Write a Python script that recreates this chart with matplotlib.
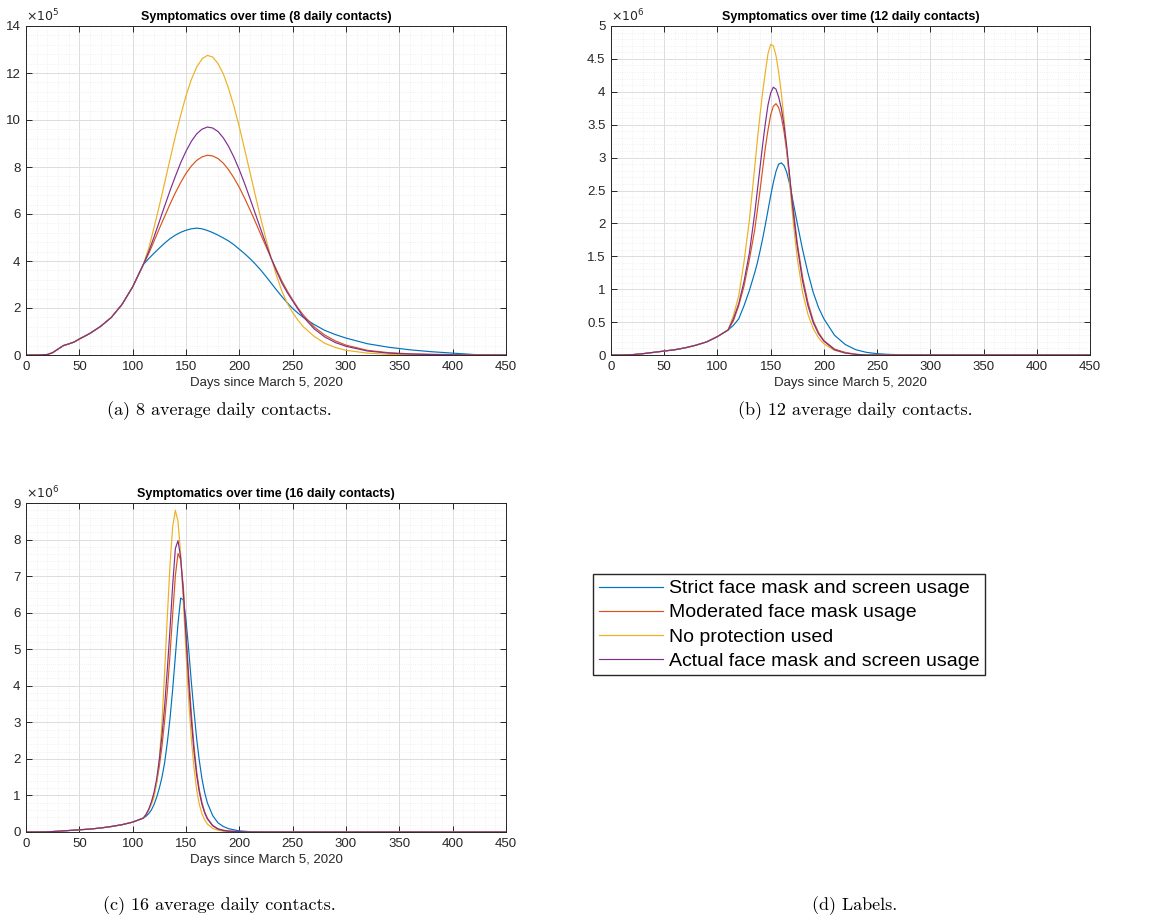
import numpy as np
import matplotlib
matplotlib.use("Agg")
import matplotlib.pyplot as plt
from matplotlib.ticker import MultipleLocator, AutoMinorLocator, FuncFormatter

# MATLAB default line colours
colors = ["#0072BD", "#D95319", "#EDB120", "#7E2F8E"]
labels = ["Strict face mask and screen usage",
          "Moderated face mask usage",
          "No protection used",
          "Actual face mask and screen usage"]

# ---------------- 8 daily contacts (values in 1e5) ----------------
early_days_a = [0, 10, 20, 25, 30, 35, 40, 45, 50, 60, 70, 80, 90, 100, 110]
early_a = [0, 0, 0.02, 0.1, 0.25, 0.4, 0.47, 0.55, 0.68, 0.92, 1.22, 1.6, 2.15, 2.9, 3.85]
late_days_a = [115, 120, 125, 130, 135, 140, 145, 150, 155, 160, 165, 170, 175, 180, 185,
               190, 195, 200, 205, 210, 215, 220, 225, 230, 235, 240, 245, 250, 255, 260,
               270, 280, 290, 300, 320, 340, 360, 380, 400, 420, 450]
strict_a = [4.1, 4.33, 4.55, 4.76, 4.95, 5.1, 5.22, 5.31, 5.37, 5.4, 5.37, 5.3, 5.21, 5.1, 4.98,
            4.85, 4.69, 4.5, 4.31, 4.1, 3.87, 3.62, 3.34, 3.05, 2.76, 2.48, 2.22, 1.98, 1.78, 1.6,
            1.3, 1.05, 0.87, 0.72, 0.48, 0.33, 0.22, 0.14, 0.08, 0.02, 0]
moderated_a = [4.31, 4.84, 5.38, 5.9, 6.42, 6.9, 7.34, 7.73, 8.04, 8.28, 8.43, 8.5, 8.47, 8.36, 8.16,
               7.88, 7.53, 7.13, 6.67, 6.18, 5.67, 5.14, 4.62, 4.1, 3.61, 3.14, 2.72, 2.35, 2.0, 1.7,
               1.2, 0.85, 0.6, 0.42, 0.2, 0.1, 0.05, 0.03, 0.02, 0.01, 0]
none_a = [4.54, 5.42, 6.35, 7.33, 8.32, 9.3, 10.2, 11.03, 11.72, 12.25, 12.6, 12.75, 12.68, 12.4, 11.96,
          11.33, 10.57, 9.7, 8.75, 7.77, 6.79, 5.83, 4.93, 4.1, 3.36, 2.7, 2.2, 1.8, 1.48, 1.2,
          0.8, 0.5, 0.32, 0.2, 0.08, 0.03, 0.01, 0, 0, 0, 0]
actual_a = [4.39, 5.02, 5.68, 6.34, 6.99, 7.6, 8.18, 8.67, 9.09, 9.41, 9.61, 9.7, 9.66, 9.51, 9.24,
            8.87, 8.41, 7.88, 7.29, 6.66, 6.01, 5.36, 4.72, 4.1, 3.55, 3.05, 2.65, 2.3, 1.95, 1.62,
            1.12, 0.77, 0.53, 0.37, 0.17, 0.08, 0.04, 0.02, 0.01, 0, 0]

# ---------------- 12 daily contacts (values in 1e6) ----------------
early_days_b = [0, 10, 20, 30, 40, 50, 60, 70, 80, 90, 100, 110]
early_b = [0, 0, 0.005, 0.02, 0.04, 0.06, 0.08, 0.11, 0.15, 0.2, 0.28, 0.38]
late_days_b = [115, 120, 125, 130,
               135, 137.5, 140, 142.5, 145, 147.5, 150, 152.5, 155, 157.5, 160, 162.5,
               165, 167.5, 170, 172.5, 175,
               180, 185, 190, 195, 200,
               210, 220, 230, 240, 250, 260, 280, 300, 350, 400, 450]
strict_b = [0.45, 0.55, 0.75, 0.98,
            1.25, 1.4, 1.58, 1.77, 1.98, 2.2, 2.42, 2.62, 2.79, 2.9, 2.92, 2.88,
            2.78, 2.62, 2.42, 2.21, 2.0,
            1.6, 1.25, 0.95, 0.72, 0.55,
            0.3, 0.16, 0.08, 0.04, 0.02, 0.01, 0, 0, 0, 0, 0]
moderated_b = [0.52, 0.75, 1.05, 1.45,
               1.9, 2.2, 2.5, 2.83, 3.15, 3.42, 3.65, 3.78, 3.82, 3.76, 3.62, 3.4,
               3.1, 2.75, 2.4, 2.05, 1.7,
               1.18, 0.8, 0.52, 0.34, 0.22,
               0.09, 0.04, 0.01, 0, 0, 0, 0, 0, 0, 0, 0]
none_b = [0.6, 0.9, 1.42, 2.05,
          2.85, 3.27, 3.65, 4.0, 4.3, 4.58, 4.72, 4.7, 4.55, 4.3, 3.98, 3.6,
          3.15, 2.68, 2.22, 1.82, 1.47,
          0.95, 0.62, 0.4, 0.26, 0.17,
          0.07, 0.03, 0.01, 0, 0, 0, 0, 0, 0, 0, 0]
actual_b = [0.55, 0.78, 1.12, 1.55,
            2.15, 2.5, 2.85, 3.2, 3.52, 3.8, 3.98, 4.07, 4.04, 3.92, 3.75, 3.5,
            3.18, 2.78, 2.35, 1.98, 1.65,
            1.12, 0.75, 0.49, 0.32, 0.21,
            0.08, 0.03, 0.01, 0, 0, 0, 0, 0, 0, 0, 0]

# ---------------- 16 daily contacts (values in 1e6) ----------------
early_days_c = [0, 10, 20, 30, 40, 50, 60, 70, 80, 90, 100, 110]
early_c = [0, 0, 0.005, 0.02, 0.04, 0.06, 0.08, 0.11, 0.15, 0.2, 0.27, 0.38]
late_days_c = [112.5, 115, 117.5, 120, 122.5, 125, 127.5, 130, 132.5, 135, 137.5, 140,
               142.5, 145, 147.5, 150, 152.5, 155, 157.5, 160, 162.5, 165, 167.5, 170,
               175, 180, 185, 190, 200, 210, 220, 240, 260, 300, 350, 400, 450]
strict_c = [0.43, 0.5, 0.6, 0.75, 0.95, 1.2, 1.5, 1.9, 2.45, 3.1, 3.9, 4.8,
            5.7, 6.4, 6.35, 5.8, 5.0, 4.1, 3.3, 2.55, 1.95, 1.45, 1.08, 0.8,
            0.45, 0.25, 0.15, 0.09, 0.03, 0.01, 0, 0, 0, 0, 0, 0, 0]
moderated_c = [0.47, 0.6, 0.78, 1.02, 1.35, 1.8, 2.35, 3.05, 3.85, 4.85, 5.95, 7.0,
               7.62, 7.45, 6.7, 5.45, 4.3, 3.25, 2.35, 1.65, 1.15, 0.8, 0.55, 0.38,
               0.18, 0.09, 0.05, 0.03, 0.01, 0, 0, 0, 0, 0, 0, 0, 0]
none_c = [0.48, 0.6, 0.75, 0.95, 1.35, 2.0, 3.0, 4.4, 5.9, 7.3, 8.35, 8.8,
          8.5, 7.6, 6.3, 4.9, 3.6, 2.55, 1.75, 1.15, 0.75, 0.5, 0.33, 0.22,
          0.1, 0.05, 0.02, 0.01, 0, 0, 0, 0, 0, 0, 0, 0, 0]
actual_c = [0.48, 0.62, 0.82, 1.08, 1.45, 1.98, 2.65, 3.45, 4.45, 5.55, 6.75, 7.75,
            7.97, 7.5, 6.55, 5.35, 4.1, 3.05, 2.2, 1.55, 1.08, 0.75, 0.52, 0.36,
            0.17, 0.08, 0.04, 0.02, 0.01, 0, 0, 0, 0, 0, 0, 0, 0]

W, H = 1161, 924

panels = [
    dict(title="Symptomatics over time (8 daily contacts)", exp=5, ymax=14, ystep=2,
         early_days=early_days_a, early=early_a, late_days=late_days_a,
         series=[strict_a, moderated_a, none_a, actual_a],
         caption="(a) 8 average daily contacts.", cap_xy=(219, 411),
         rect=[26 / W, 1 - 355 / H, 480 / W, 329 / H]),
    dict(title="Symptomatics over time (12 daily contacts)", exp=6, ymax=5, ystep=0.5,
         early_days=early_days_b, early=early_b, late_days=late_days_b,
         series=[strict_b, moderated_b, none_b, actual_b],
         caption="(b) 12 average daily contacts.", cap_xy=(855, 411),
         rect=[611 / W, 1 - 355 / H, 479 / W, 329 / H]),
    dict(title="Symptomatics over time (16 daily contacts)", exp=6, ymax=9, ystep=1,
         early_days=early_days_c, early=early_c, late_days=late_days_c,
         series=[strict_c, moderated_c, none_c, actual_c],
         caption="(c) 16 average daily contacts.", cap_xy=(219, 906),
         rect=[26 / W, 1 - 832 / H, 480 / W, 329 / H]),
]

sans = ["Liberation Sans", "DejaVu Sans"]
dark = "#262626"


def fmt(v, pos):
    return f"{v:g}"


fig = plt.figure(figsize=(W / 100, H / 100), dpi=100)

for p in panels:
    ax = fig.add_axes(p["rect"])
    for vals, c, lab in zip(p["series"], colors, labels):
        x = list(p["early_days"]) + list(p["late_days"])
        y = list(p["early"]) + list(vals)
        ax.plot(x, y, color=c, lw=0.85, label=lab)

    ax.set_xlim(0, 450)
    ax.set_ylim(0, p["ymax"])
    ax.xaxis.set_major_locator(MultipleLocator(50))
    ax.yaxis.set_major_locator(MultipleLocator(p["ystep"]))
    ax.xaxis.set_minor_locator(AutoMinorLocator(5))
    ax.yaxis.set_minor_locator(AutoMinorLocator(5))
    ax.yaxis.set_major_formatter(FuncFormatter(fmt))

    ax.grid(which="major", color="#dcdcdc", lw=0.7)
    ax.grid(which="minor", color="#ececec", lw=0.6, ls=":")
    ax.set_axisbelow(True)
    ax.tick_params(which="major", direction="in", length=4, width=0.7, color=dark,
                   top=True, right=True, labelsize=9.5, labelcolor=dark, pad=4)
    ax.tick_params(which="minor", length=0)
    for s in ax.spines.values():
        s.set_color(dark)
        s.set_linewidth(0.7)
    for t in ax.get_xticklabels() + ax.get_yticklabels():
        t.set_family(sans)

    ax.set_title(p["title"], fontsize=9, fontweight="bold", family=sans, pad=4, color="black")
    ax.set_xlabel("Days since March 5, 2020", fontsize=9.5, family=sans, color=dark, labelpad=3)
    ax.text(0.0, 1.005, r"$\times10^{%d}$" % p["exp"], transform=ax.transAxes,
            fontsize=9, color=dark, ha="left", va="bottom", family=sans)

    # sub-figure caption underneath
    cx, cy = p["cap_xy"]
    fig.text(cx / W, 1 - cy / H, p["caption"], ha="center", va="center",
             fontsize=13, family="cmr10")

handles, labs = ax.get_legend_handles_labels()
fig.legend(handles, labs, loc="upper left", bbox_to_anchor=(593 / W, 1 - 574 / H),
           prop={"family": sans, "size": 14}, frameon=True, fancybox=False,
           edgecolor=dark, framealpha=1, handlelength=3.3, handletextpad=0.3,
           labelspacing=0.33, borderpad=0.3, borderaxespad=0)

fig.text(855 / W, 1 - 906 / H, "(d) Labels.", ha="center", va="center",
         fontsize=13, family="cmr10")

fig.savefig("out.png", dpi=100, facecolor="white")
